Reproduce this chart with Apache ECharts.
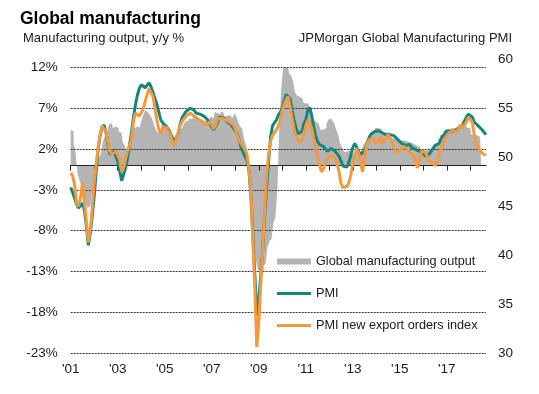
<!DOCTYPE html>
<html><head><meta charset="utf-8">
<script src="https://cdn.jsdelivr.net/npm/echarts@6/dist/echarts.min.js"></script>
<style>html,body{margin:0;padding:0;background:#fff}#c{width:539px;height:394px}</style>
</head><body><div id="c"></div>
<script>
// Monthly series, Jan 2001 .. Sep 2018
const startYear = 2001;

// Global manufacturing output, y/y % (left axis)
const output = [
  4.4, 4.2, 2.8, 1.5, -1.0, -1.8, -2.5, -3.5, -4.5, -5.2, -5.0, -4.0,
  -2.8, -1.5, 0.3, 1.0, 1.5, 3.0, 3.6, 4.0, 5.0, 5.2, 4.6, 4.8,
  4.6, 4.2, 4.0, 2.9, 2.5, 1.7, 2.2, 3.0, 4.2, 4.6, 4.8, 4.7,
  5.0, 5.8, 6.5, 6.8, 6.5, 6.2, 5.8, 5.0, 4.4, 4.0, 4.2, 5.2,
  4.8, 4.6, 4.4, 4.2, 3.5, 3.3, 3.3, 3.6, 4.4, 4.6, 5.0, 5.4,
  5.5, 5.8, 5.7, 6.0, 6.2, 5.8, 5.6, 5.4, 5.3, 5.5, 5.6, 5.4,
  6.0, 5.8, 6.6, 6.4, 6.3, 6.6, 6.5, 6.0, 6.1, 6.2, 6.0, 5.8,
  6.4, 6.0, 5.4, 4.8, 4.5, 3.3, 2.5, 1.0, -3.0, -6.0, -9.5, -11.5,
  -12.8, -13.0, -12.8, -12.3, -12.0, -10.0, -9.3, -9.0, -7.0, -6.4, -3.0, 5.0,
  9.5, 12.0, 12.9, 12.5, 11.3, 11.0, 10.3, 9.0, 8.6, 8.4, 8.2, 7.8,
  7.6, 7.6, 7.2, 7.0, 5.6, 5.4, 5.2, 5.0, 4.4, 4.4, 4.6, 5.0,
  5.6, 5.8, 5.5, 5.2, 4.4, 3.8, 2.7, 2.2, 1.7, 1.7, 1.9, 1.9,
  1.5, 1.4, 1.5, 1.6, 1.7, 2.0, 2.6, 2.9, 3.4, 3.8, 4.1, 4.3,
  4.6, 4.6, 4.5, 4.4, 4.1, 4.0, 4.1, 3.8, 3.4, 3.3, 3.2, 3.3,
  3.1, 3.1, 3.0, 3.0, 2.9, 2.9, 2.8, 2.6, 2.5, 2.4, 2.3, 1.9,
  1.9, 1.8, 1.9, 2.0, 2.0, 2.1, 2.5, 2.7, 2.9, 3.7, 3.9, 4.3,
  4.4, 4.5, 4.6, 4.6, 4.5, 4.6, 4.7, 5.0, 5.0, 5.0, 4.8, 4.6,
  4.6, 3.8, 3.7, 3.7, 3.6, 3.5, null, null, null
];

// JPMorgan Global Manufacturing PMI (right axis)
const pmi = [
  46.9, 46.4, 45.8, 45.2, 44.8, 44.9, 45.3, 44.6, 43.0, 41.0, 42.2, 44.0,
  46.0, 48.5, 50.8, 52.2, 53.0, 53.3, 52.5, 51.3, 50.3, 50.3, 50.6, 50.4,
  49.6, 48.6, 47.6, 47.8, 48.9, 49.9, 51.2, 52.5, 54.0, 55.3, 56.3, 57.0,
  57.4, 57.3, 57.1, 57.3, 57.6, 57.2, 56.6, 56.0, 55.4, 54.6, 53.8, 53.5,
  53.3, 53.1, 52.8, 52.4, 52.0, 51.6, 51.5, 52.5, 53.5, 54.1, 54.4, 54.7,
  54.9, 55.0, 55.1, 54.8, 54.5, 54.3, 54.4, 54.5, 54.2, 54.0, 53.8, 53.4,
  53.1, 52.8, 52.8, 53.6, 54.1, 54.2, 54.0, 53.8, 53.6, 53.5, 53.3, 53.0,
  52.8, 52.4, 51.8, 51.0, 50.5, 50.1, 49.7, 48.6, 46.0, 42.0, 38.0, 33.8,
  35.5, 37.8, 40.5, 44.0, 47.0, 49.5, 52.0, 53.2, 53.5, 53.8, 54.3, 54.6,
  55.0, 55.8, 56.4, 56.6, 56.0, 54.8, 53.8, 53.0, 52.4, 52.3, 52.6, 53.4,
  53.8, 54.8, 55.1, 54.3, 53.2, 52.2, 51.6, 51.3, 51.2, 51.1, 50.9, 50.6,
  50.7, 50.9, 50.8, 50.6, 50.4, 50.1, 49.6, 49.1, 48.9, 49.0, 49.5, 50.2,
  51.0, 51.4, 51.0, 50.6, 50.3, 50.5, 50.6, 51.2, 51.8, 52.3, 52.5, 52.6,
  52.8, 52.7, 52.6, 52.5, 52.5, 52.3, 52.4, 52.3, 52.1, 52.2, 52.0, 51.8,
  51.6, 51.4, 51.3, 51.2, 51.4, 51.3, 51.0, 50.9, 50.8, 50.7, 50.6, 50.7,
  50.4, 50.1, 50.2, 50.3, 50.5, 50.9, 51.2, 51.0, 51.4, 51.9, 52.1, 52.4,
  52.7, 52.8, 52.6, 52.8, 52.7, 52.9, 53.0, 53.0, 53.3, 53.7, 54.1, 54.4,
  54.5, 54.1, 53.6, 53.5, 53.2, 53.0, 52.8, 52.6, 52.3
];

// PMI new export orders index (right axis)
const exportOrders = [
  48.4, 48.1, 47.2, 45.3, 45.0, 45.8, 47.4, 45.5, 43.5, 41.3, 42.6, 44.8,
  47.5, 49.3, 51.0, 52.3, 53.2, 53.4, 52.6, 51.5, 50.6, 50.3, 50.2, 50.6,
  50.8, 49.8, 48.5, 48.9, 49.8, 50.6, 51.2, 51.9, 53.6, 54.5, 54.7, 54.2,
  54.0, 54.9, 55.7, 56.4, 57.0, 56.8, 56.2, 55.0, 53.8, 52.8, 52.4, 53.1,
  53.2, 53.0, 52.6, 52.3, 51.6, 51.1, 52.0, 52.6, 53.3, 53.7, 53.9, 54.2,
  54.4, 54.5, 54.4, 54.2, 54.0, 53.9, 53.8, 53.7, 53.5, 53.3, 53.5, 53.6,
  53.3, 52.9, 53.3, 53.9, 54.1, 54.0, 53.9, 53.8, 53.7, 53.6, 53.4, 53.3,
  52.9, 52.3, 51.7, 51.4, 51.2, 50.8, 50.3, 48.8, 46.3, 41.5, 36.5, 30.6,
  33.0, 37.0, 40.5, 44.5, 48.2, 50.2, 51.6, 52.2, 52.5, 52.8, 53.2, 53.8,
  54.8, 55.4, 55.9, 56.2, 55.2, 54.0, 52.9, 52.1, 51.6, 51.4, 51.7, 52.4,
  53.2, 53.8, 53.9, 53.0, 52.0, 51.0, 50.2, 49.2, 48.5, 48.8, 49.4, 49.9,
  50.0, 50.2, 50.0, 49.9, 49.3, 48.5, 47.3, 46.9, 46.8, 47.0, 47.4, 48.2,
  49.3, 50.2, 50.9, 50.4, 49.5, 48.5, 50.0, 51.2, 51.7, 51.9, 52.0, 51.8,
  51.4, 51.7, 52.0, 51.4, 51.6, 52.0, 52.3, 52.5, 51.6, 50.9, 50.5, 50.4,
  50.7, 50.9, 51.1, 50.9, 50.8, 50.5, 50.3, 50.1, 49.6, 48.9, 49.8, 50.6,
  50.7, 50.5, 50.1, 49.6, 49.8, 49.4, 49.1, 49.2, 50.1, 50.8, 51.4, 51.9,
  52.2, 52.5, 52.6, 52.7, 52.8, 52.6, 52.6, 53.3, 53.0, 53.2, 53.6, 54.1,
  54.2, 53.6, 52.3, 51.4, 51.0, 50.8, 50.4, 50.3, 50.2
];

// Axis settings
const leftAxis = { min: -23, max: 12, step: 5 };
const rightAxis = { min: 30, max: 60, step: 5 };

const months = [];
for (let i = 0; i < pmi.length; i++) {
  const y = startYear + Math.floor(i / 12);
  const m = (i % 12) + 1;
  months.push(y + '-' + (m < 10 ? '0' : '') + m);
}

const FONT = '"Liberation Sans", Arial, Helvetica, sans-serif';
const TXT = '#1a1a1a';
const GREY = '#b4b4b4', TEAL = '#13877c', ORANGE = '#f4993d';

const chart = echarts.init(document.getElementById('c'));
chart.setOption({
  animation: false,
  backgroundColor: '#fff',
  textStyle: { fontFamily: FONT },
  title: [
    { text: 'Global manufacturing', left: 20, top: 10.5, padding: 0,
      textStyle: { fontSize: 17.5, fontWeight: 'bold', color: '#000', fontFamily: FONT } },
    { text: 'Manufacturing output, y/y %', left: 23, top: 31.5, padding: 0,
      textStyle: { fontSize: 13, fontWeight: 'normal', color: TXT, fontFamily: FONT } },
    { text: 'JPMorgan Global Manufacturing PMI', right: 27, top: 31.5, padding: 0,
      textStyle: { fontSize: 13, fontWeight: 'normal', color: TXT, fontFamily: FONT } }
  ],
  grid: [
    { left: 70.7, right: 53, top: 67.7, bottom: 41 },
    { left: 70.7, right: 53, top: 59.3, bottom: 41 }
  ],
  xAxis: [
    { type: 'category', gridIndex: 0, data: months, boundaryGap: false, z: 3,
      axisLine: { onZero: true, lineStyle: { color: '#222', width: 1 } },
      axisTick: { show: true, length: 5, interval: (i) => i % 12 === 0, lineStyle: { color: '#222' } },
      axisLabel: { show: false }, splitLine: { show: false } },
    { type: 'category', gridIndex: 1, data: months, boundaryGap: false,
      axisLine: { show: false }, axisTick: { show: false }, splitLine: { show: false },
      axisLabel: { interval: (i) => i % 24 === 0, formatter: (v) => "'" + v.slice(2, 4),
        fontSize: 13.5, color: TXT, margin: 9, fontFamily: FONT } }
  ],
  yAxis: [
    { type: 'value', gridIndex: 0, min: leftAxis.min, max: leftAxis.max, interval: leftAxis.step, z: 3,
      axisLine: { show: false }, axisTick: { show: false },
      axisLabel: { formatter: '{value}%', fontSize: 13.5, color: TXT, margin: 13, fontFamily: FONT },
      splitLine: { show: true, lineStyle: { color: '#333', width: 1, type: [2, 1] } } },
    { type: 'value', gridIndex: 1, position: 'right', min: rightAxis.min, max: rightAxis.max, interval: rightAxis.step,
      axisLine: { show: false }, axisTick: { show: false }, splitLine: { show: false },
      axisLabel: { fontSize: 13.5, color: TXT, margin: 12, fontFamily: FONT } }
  ],
  legend: [
    { left: 277, top: 255, padding: 0, itemWidth: 34, itemHeight: 6, selectedMode: false,
      itemStyle: { borderWidth: 0, color: GREY },
      textStyle: { fontSize: 12.7, color: TXT, fontFamily: FONT },
      data: [{ name: 'Global manufacturing output', icon: 'rect' }] },
    { left: 277, top: 287, padding: 0, itemWidth: 34, itemHeight: 3, selectedMode: false,
      itemStyle: { borderWidth: 0 },
      textStyle: { fontSize: 12.7, color: TXT, fontFamily: FONT },
      data: [{ name: 'PMI', icon: 'rect' }] },
    { left: 277, top: 319, padding: 0, itemWidth: 34, itemHeight: 3, selectedMode: false,
      itemStyle: { borderWidth: 0 },
      textStyle: { fontSize: 12.7, color: TXT, fontFamily: FONT },
      data: [{ name: 'PMI new export orders index', icon: 'rect' }] }
  ],
  series: [
    { name: 'Global manufacturing output', type: 'line', step: 'middle', xAxisIndex: 0, yAxisIndex: 0,
      data: output, symbol: 'none', showSymbol: false,
      lineStyle: { width: 0, color: GREY }, itemStyle: { color: GREY },
      areaStyle: { color: GREY, opacity: 1, origin: 0 }, z: 2 },
    { name: 'PMI', type: 'line', xAxisIndex: 1, yAxisIndex: 1, data: pmi,
      symbol: 'none', showSymbol: false, lineStyle: { color: TEAL, width: 3 }, itemStyle: { color: TEAL }, z: 4 },
    { name: 'PMI new export orders index', type: 'line', xAxisIndex: 1, yAxisIndex: 1, data: exportOrders,
      symbol: 'none', showSymbol: false, lineStyle: { color: ORANGE, width: 3 }, itemStyle: { color: ORANGE }, z: 5 }
  ]
});
</script>
</body></html>
